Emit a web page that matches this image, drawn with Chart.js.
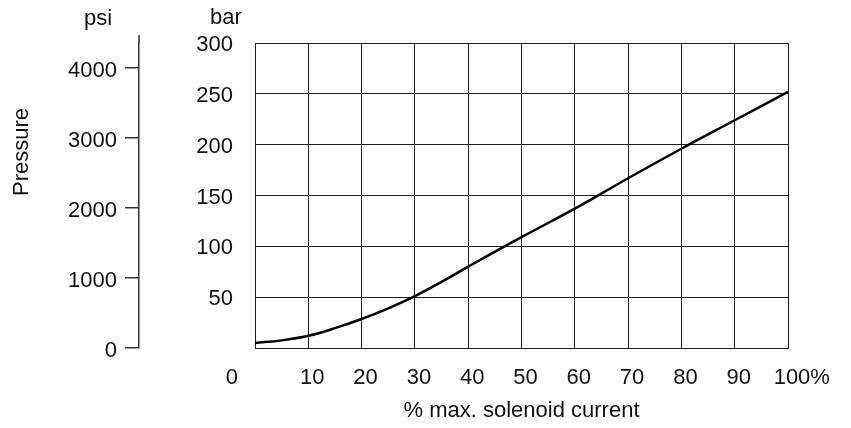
<!DOCTYPE html>
<html>
<head>
<meta charset="utf-8">
<script src="https://cdn.jsdelivr.net/npm/chart.js@4/dist/chart.umd.min.js"></script>
<style>
  html, body { margin: 0; padding: 0; background: #fff; }
  #wrap { width: 851px; height: 428px; position: relative; }
</style>
</head>
<body>
<div id="wrap"><canvas id="chart"></canvas></div>
<script>
// % of max solenoid current vs. pressure (bar)
const currentPct = [0, 5, 10, 15, 20, 25, 30, 35, 40, 50, 60, 70, 80, 90, 100];
const pressureBar = [5, 7.5, 12, 19.5, 28.5, 39, 51, 65, 80, 109, 137, 167, 196, 224, 252];

const barTicks = [50, 100, 150, 200, 250, 300];
const psiTicks = [0, 1000, 2000, 3000, 4000];
const xTicks = [0, 10, 20, 30, 40, 50, 60, 70, 80, 90, 100];

const BAR_TO_PSI = 14.5038;
const FONT = { family: "'Liberation Sans', Arial, sans-serif", size: 22 };
const INK = '#111';
const GRID = '#1c1c1c';

// unit labels, axis title, origin "0" and the "100%" label
const extraText = {
  id: 'extraText',
  afterDraw(chart) {
    const { ctx, chartArea, scales } = chart;
    const x = scales.x;
    const labelY = chartArea.bottom + 30;
    ctx.save();
    ctx.fillStyle = INK;
    ctx.font = `${FONT.size}px ${FONT.family}`;
    ctx.textBaseline = 'middle';
    ctx.textAlign = 'center';
    ctx.fillText('psi', scales.psi.right - 41, 19);
    ctx.fillText('bar', scales.y.right - 29, 18);
    ctx.textAlign = 'right';
    ctx.fillText(String(xTicks[0]), x.getPixelForValue(0) - 17, labelY);
    const last = xTicks[xTicks.length - 1];
    const lx = x.getPixelForValue(last) + 4;
    ctx.textAlign = 'center';
    ctx.fillText(String(last), lx, labelY);
    ctx.textAlign = 'left';
    ctx.fillText('%', lx + ctx.measureText(String(last)).width / 2, labelY);

    ctx.save();
    ctx.translate(22, chartArea.top + 109);
    ctx.rotate(-Math.PI / 2);
    ctx.textAlign = 'center';
    ctx.fillText('Pressure', 0, 0);
    ctx.restore();

    // psi axis line runs a bit above the plot
    ctx.strokeStyle = '#333';
    ctx.lineWidth = 1.5;
    ctx.beginPath();
    ctx.moveTo(scales.psi.right, chartArea.top - 8);
    ctx.lineTo(scales.psi.right, chartArea.top);
    ctx.stroke();
    ctx.restore();
  }
};

new Chart(document.getElementById('chart'), {
  type: 'line',
  data: {
    datasets: [{
      data: currentPct.map((v, i) => ({ x: v, y: pressureBar[i] })),
      borderColor: '#000',
      borderWidth: 2.5,
      pointRadius: 0,
      tension: 0.4,
      fill: false,
      xAxisID: 'x',
      yAxisID: 'y'
    }]
  },
  options: {
    responsive: true,
    maintainAspectRatio: false,
    animation: false,
    layout: { padding: { top: 43, right: 63, bottom: 4, left: 0 } },
    plugins: { legend: { display: false }, tooltip: { enabled: false } },
    scales: {
      x: {
        type: 'linear',
        min: 0,
        max: 100,
        afterBuildTicks: (s) => { s.ticks = xTicks.map(v => ({ value: v })); },
        afterFit: (s) => { s.height = 76; },
        ticks: {
          font: FONT,
          color: INK,
          padding: 17,
          labelOffset: 4,
          maxRotation: 0,
          callback: (v) => (v === 0 || v === 100 ? '' : String(v))
        },
        grid: { color: GRID, lineWidth: 1, drawTicks: false },
        border: { display: true, color: GRID, width: 1 },
        title: {
          display: true,
          text: '% max. solenoid current',
          font: FONT,
          color: INK,
          padding: { top: 0, bottom: 0 }
        }
      },
      y: {
        position: 'left',
        weight: 0,
        min: 0,
        max: 300,
        afterBuildTicks: (s) => { s.ticks = [0, ...barTicks].map(v => ({ value: v })); },
        afterFit: (s) => { s.width = 116; },
        ticks: {
          font: FONT,
          color: INK,
          padding: 22,
          labelOffset: 2,
          callback: (v) => (v === 0 ? '' : String(v))
        },
        grid: { color: GRID, lineWidth: 1, drawTicks: false },
        border: { display: true, color: GRID, width: 1 }
      },
      psi: {
        type: 'linear',
        position: 'left',
        weight: 1,
        min: 0,
        max: 300 * BAR_TO_PSI,
        afterBuildTicks: (s) => { s.ticks = psiTicks.map(v => ({ value: v })); },
        afterFit: (s) => { s.width = 139; },
        ticks: {
          font: FONT,
          color: INK,
          padding: 8,
          labelOffset: 3,
          callback: (v) => String(v)
        },
        grid: {
          drawOnChartArea: false,
          drawTicks: true,
          tickLength: 14,
          color: '#333',
          lineWidth: 1.5
        },
        border: { display: true, color: '#333', width: 1.5 }
      }
    }
  },
  plugins: [extraText]
});
</script>
</body>
</html>
